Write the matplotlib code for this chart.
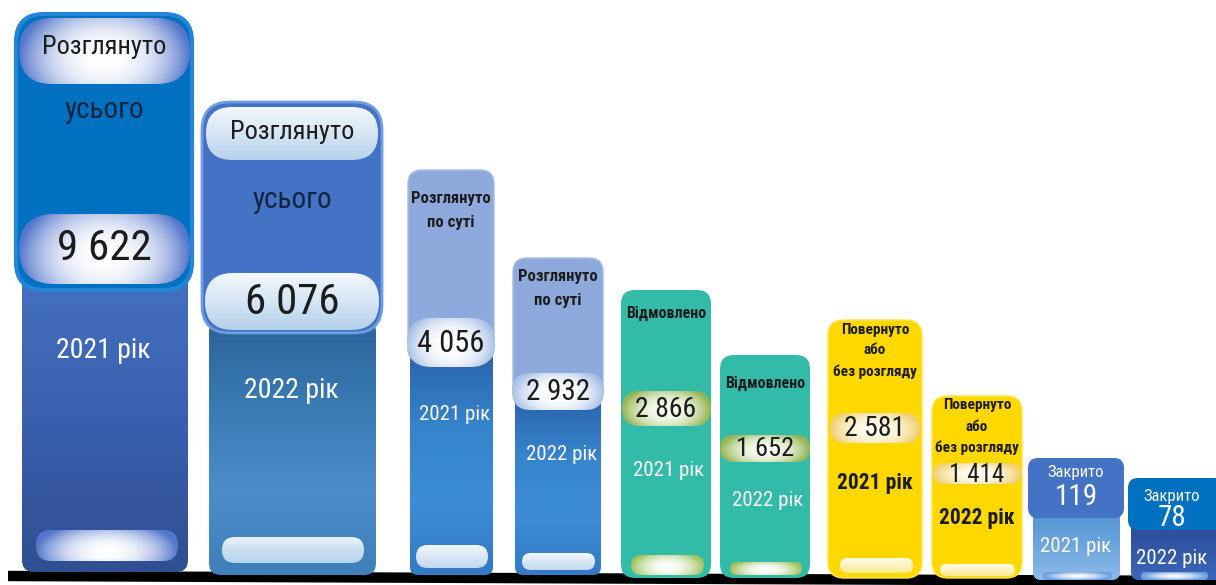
import numpy as np
import matplotlib
matplotlib.use("Agg")
import matplotlib.pyplot as plt
from matplotlib import font_manager as fm
from matplotlib.patches import FancyBboxPatch
from matplotlib.colors import to_rgb, LinearSegmentedColormap

# ---------------- data ----------------
category_lines = [["Розглянуто", "усього"],
                  ["Розглянуто", "по суті"],
                  ["Відмовлено"],
                  ["Повернуто", "або", "без розгляду"],
                  ["Закрито"]]
values_2021 = [9622, 4056, 2866, 2581, 119]
values_2022 = [6076, 2932, 1652, 1414, 78]
year_labels = ["2021 рік", "2022 рік"]

# ---------------- font ----------------
available = {f.name for f in fm.fontManager.ttflist}
FONT = "DejaVu Sans"
for cand in ["Roboto Condensed", "PT Sans Narrow", "Liberation Sans Narrow",
             "IBM Plex Sans Condensed", "Open Sans Condensed", "Roboto"]:
    if cand in available:
        FONT = cand
        break
plt.rcParams["font.family"] = [FONT, "DejaVu Sans"]

# ---------------- layout (pixel-like units, y grows downward) ----------------
W, H = 1216, 585
bar_x = [(16, 192), (202, 382), (408, 494), (513, 603), (621, 711),
         (720, 810), (828, 922), (932, 1022), (1028, 1124), (1128, 1224)]
bar_top = [14, 102, 170, 258, 290, 355, 320, 396, 458, 478]

fig = plt.figure(figsize=(W / 100, H / 100), dpi=100)
ax = fig.add_axes([0, 0, 1, 1])
ax.set_xlim(0, W)
ax.set_ylim(H, 0)
ax.axis("off")


def rbox(x0, x1, y0, y1, r, fc="none", ec="none", lw=0, z=1):
    p = FancyBboxPatch((x0, y0), x1 - x0, y1 - y0,
                       boxstyle=f"round,pad=0,rounding_size={r}",
                       fc=fc, ec=ec, lw=lw, zorder=z)
    ax.add_patch(p)
    return p


def vgrad(x0, x1, y0, y1, r, stops, z=1, ec="none", lw=0):
    p = rbox(x0, x1, y0, y1, r, fc="none", ec=ec, lw=lw, z=z + 0.01)
    cmap = LinearSegmentedColormap.from_list("g", stops)
    arr = np.linspace(0, 1, 256).reshape(-1, 1)
    im = ax.imshow(arr, cmap=cmap, extent=(x0, x1, y1, y0), origin="upper",
                   aspect="auto", zorder=z, interpolation="bilinear")
    im.set_clip_path(p)
    return p


def rgrad(x0, x1, y0, y1, r, c_in, c_out, cy=0.0, power=2.0, ky=0.9, z=1):
    p = rbox(x0, x1, y0, y1, r, z=z + 0.01)
    X, Y = np.meshgrid(np.linspace(-1, 1, 240), np.linspace(-1, 1, 80))
    d = np.sqrt(X ** 2 + ((Y - cy) * ky) ** 2)
    t = np.clip(d, 0, 1) ** power
    c0 = np.array(to_rgb(c_in))
    c1 = np.array(to_rgb(c_out))
    img = c0 * (1 - t[..., None]) + c1 * t[..., None]
    im = ax.imshow(img, extent=(x0, x1, y1, y0), origin="upper",
                   aspect="auto", zorder=z, interpolation="bilinear")
    im.set_clip_path(p)
    return p


def txt(x, y, s, size, color="#1c1c1c", weight="normal", z=10):
    ax.text(x, y, s, ha="center", va="center", fontsize=size, color=color,
            fontweight=weight, zorder=z)


def fmt(v):
    return f"{v:,}".replace(",", " ")


# ---------------- baseline ----------------
ax.plot([8, W], [576, 581], color="black", lw=7.5, solid_capstyle="butt", zorder=0.5)

values = [values_2021, values_2022]

# ---------- category 0: Розглянуто усього ----------
for j in range(2):
    k = j
    x0, x1 = bar_x[k]
    cx = (x0 + x1) / 2
    top = bar_top[k]
    v = values[j][0]
    if j == 0:
        vgrad(22, 188, 270, 572, 12, ["#4471c0", "#3a5fae", "#2f4f91"], z=1)
        rbox(x0, x1, top, 290, 28, fc="#0070c0", ec="#2384d8", lw=3, z=2)
        rgrad(x0 + 3, x1 - 2, 18, 84, 33, "#ffffff", "#5577cc", cy=0.2, power=2.4, ky=0.55, z=3)
        txt(cx, 47, category_lines[0][0], 19)
        txt(cx, 110, category_lines[0][1], 21, color="#10243e")
        rgrad(x0 + 3, x1 - 2, 214, 284, 35, "#ffffff", "#5577cc", cy=0.2, power=2.4, ky=0.55, z=3)
        txt(cx, 248, fmt(v), 31)
        txt(cx - 1, 350, year_labels[0], 20, color="white")
        rgrad(36, 178, 530, 561, 15, "#ffffff", "#5577cc", cy=0.4, power=2.2, ky=0.5, z=3)
    else:
        vgrad(209, 376, 320, 575, 12, ["#2b6199", "#3a7bb4", "#4a8dc7", "#3f80bb"], z=1)
        rbox(x0, x1, top, 333, 28, fc="#4472c4", ec="#6d9de2", lw=2, z=2)
        vgrad(x0 + 4, x1 - 4, 107, 160, 26, ["#f2f7fc", "#d6e6f5", "#b6d1ec"], z=3)
        txt(cx, 132, category_lines[0][0], 19)
        txt(cx, 200, category_lines[0][1], 21, color="#10243e")
        vgrad(x0 + 3, x1 - 3, 273, 330, 28, ["#f2f7fc", "#d6e6f5", "#b3cfeb"], z=3)
        txt(cx, 302, fmt(v), 31)
        txt(cx - 1, 390, year_labels[1], 20, color="white")
        vgrad(222, 364, 537, 563, 13, ["#eef5fc", "#c8dff2", "#b8d4ee"], z=3)

# ---------- category 1: Розглянуто по суті ----------
cat1 = [dict(cap_bot=362, body=(410, 493, 350), t=(198, 222), pill=(407, 495, 318, 367),
             year=415, bp=(416, 488, 545, 568), ns=22),
        dict(cap_bot=405, body=(515, 601, 395), t=(277, 300), pill=(512, 604, 373, 410),
             year=455, bp=(522, 595, 553, 570), ns=21)]
for j in range(2):
    k = 2 + j
    L = cat1[j]
    x0, x1 = bar_x[k]
    cx = (x0 + x1) / 2
    bx0, bx1, by0 = L["body"]
    vgrad(bx0, bx1, by0, 575, 8, ["#2a62aa", "#3584cc", "#3d8dd6", "#3479c4"], z=1)
    rbox(x0, x1, bar_top[k], L["cap_bot"], 14, fc="#8eaadc", ec="#a4bce6", lw=1, z=2)
    for line, y in zip(category_lines[1], L["t"]):
        txt(cx, y, line, 12, weight="bold")
    px0, px1, py0, py1 = L["pill"]
    rgrad(px0, px1, py0, py1, (py1 - py0) / 2, "#ffffff", "#aac2e6", cy=0.1, power=2.5, ky=0.7, z=3)
    txt(cx, (py0 + py1) / 2 + 1, fmt(values[j][1]), L["ns"])
    txt(cx + 4, L["year"], year_labels[j], 15, color="white")
    b0, b1, c0, c1 = L["bp"]
    vgrad(b0, b1, c0, c1, (c1 - c0) / 2, ["#f4f8fd", "#d9e7f6", "#c3d8f0"], z=3)

# ---------- category 2: Відмовлено ----------
cat2 = [dict(t=313, pill=(622, 711, 391, 426), year=470, bp=(631, 704, 555, 575), ns=20),
        dict(t=383, pill=(720, 810, 435, 462), year=500, bp=(730, 802, 562, 575), ns=19)]
for j in range(2):
    k = 4 + j
    L = cat2[j]
    x0, x1 = bar_x[k]
    cx = (x0 + x1) / 2
    rbox(x0, x1, bar_top[k], 578, 14, fc="#33bba9", z=2)
    txt(cx, L["t"], category_lines[2][0], 11.5, weight="bold")
    px0, px1, py0, py1 = L["pill"]
    rgrad(px0, px1, py0, py1, (py1 - py0) / 2, "#fbfdf4", "#93b655", cy=0.1, power=2.2, ky=0.7, z=3)
    txt(cx, (py0 + py1) / 2 + 1, fmt(values[j][2]), L["ns"])
    txt(cx + 3, L["year"], year_labels[j], 15, color="white")
    b0, b1, c0, c1 = L["bp"]
    rgrad(b0, b1, c0, c1, (c1 - c0) / 2, "#ffffff", "#9fc260", cy=0.2, power=2.0, ky=0.6, z=3)

# ---------- category 3: Повернуто або без розгляду ----------
cat3 = [dict(t=(330, 350, 372), pill=(830, 920, 413, 443), year=483, bp=(840, 913, 558, 573), ns=20),
        dict(t=(405, 427, 448), pill=(933, 1021, 463, 484), year=518, bp=(940, 1015, 564, 576), ns=18)]
for j in range(2):
    k = 6 + j
    L = cat3[j]
    x0, x1 = bar_x[k]
    cx = (x0 + x1) / 2
    rbox(x0, x1, bar_top[k], 578, 16, fc="#ffd800", ec="#ffe44a", lw=1, z=2)
    for line, y in zip(category_lines[3], L["t"]):
        txt(cx, y, line, 11, weight="bold")
    px0, px1, py0, py1 = L["pill"]
    rgrad(px0, px1, py0, py1, (py1 - py0) / 2, "#fffdf2", "#f0d070", cy=0.1, power=2.2, ky=0.7, z=3)
    txt(cx, (py0 + py1) / 2 + 1, fmt(values[j][3]), L["ns"])
    txt(cx, L["year"], year_labels[j], 15.5, weight="bold")
    b0, b1, c0, c1 = L["bp"]
    vgrad(b0, b1, c0, c1, (c1 - c0) / 2, ["#fffbe6", "#fff3c0", "#ffe98a"], z=3)

# ---------- category 4: Закрито ----------
cat4 = [dict(head=(458, 518), body=(1033, 1120, 505), face="#4472c4",
             grad=["#4f8fd2", "#6aa4dc", "#8dbbe8"], t=473, n=497, year=547),
        dict(head=(478, 530), body=(1131, 1222, 520), face="#0070c0",
             grad=["#2b4c94", "#3358a8", "#3d66ba"], t=497, n=518, year=558)]
for j in range(2):
    k = 8 + j
    L = cat4[j]
    x0, x1 = bar_x[k]
    cx = (x0 + min(x1, W)) / 2
    bx0, bx1, by0 = L["body"]
    vgrad(bx0, bx1, by0, 580, 8, L["grad"], z=1)
    rbox(x0, x1, L["head"][0], L["head"][1], 10, fc=L["face"], z=2)
    txt(cx, L["t"], category_lines[4][0], 12, color="white")
    txt(cx, L["n"], fmt(values[j][4]), 21, color="white")
    txt(cx, L["year"], year_labels[j], 15, color="white")
    rgrad(bx0 + 10, min(bx1, W) - 8, 572, 580, 4, "#ffffff", "#6c9fe0", cy=0.0, power=1.5, z=3)

fig.savefig("out.png", dpi=100)
